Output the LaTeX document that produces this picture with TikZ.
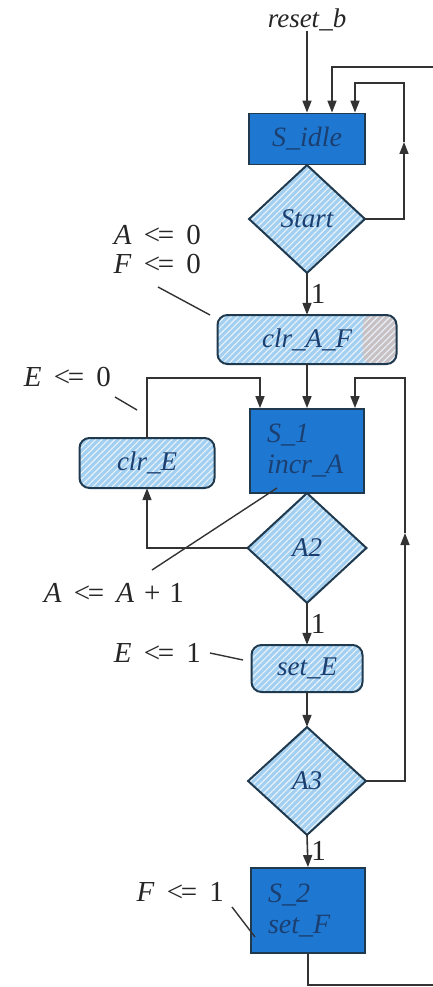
\documentclass[tikz,border=0pt]{standalone}
\usepackage{fontspec}
\setmainfont{Liberation Serif}
\usepackage{xcolor}
\usetikzlibrary{
	arrows.meta,
	positioning,
	calc,
	shapes.geometric,
	patterns.meta
}

\definecolor{stateblue}{HTML}{1E78D2}
\definecolor{condblue}{HTML}{A3CFF0}
\definecolor{boxedge}{HTML}{1F3A4F}
\definecolor{boxtext}{HTML}{1B3F70}
\definecolor{greypart}{HTML}{C9C0C3}

\newcommand{\asgn}[2]{\textit{#1}\hspace{0.42em}<\kern-2.4pt=\hspace{0.42em}#2}

\begin{document}
\begin{tikzpicture}[
		x=1pt, y=-1pt,
		>={Triangle[length=12pt,width=9pt]},
		flow/.style={
			draw=black!80,
			line width=1.6pt
		},
		tick/.style={
			draw=black!80,
			line width=1.4pt
		},
		lbl/.style={
			font=\fontsize{29}{29}\selectfont,
			inner sep=0pt,
			text=black!85
		},
		statebox/.style={
			rectangle,
			draw=boxedge,
			fill=stateblue,
			line width=1.8pt,
			inner sep=0pt,
			text=boxtext,
			font=\fontsize{28}{31}\selectfont\itshape
		},
		hatch/.style={
			postaction={
				pattern={Lines[angle=45,distance=4.5pt,line width=1.1pt]},
				pattern color=white!75!condblue
			},
			postaction={draw=boxedge, line width=2pt}
		},
		condbox/.style={
			rectangle,
			rounded corners=10pt,
			fill=condblue,
			hatch,
			inner sep=0pt,
			text=boxtext,
			font=\fontsize{27}{28}\selectfont\itshape
		},
		decision/.style={
			diamond,
			fill=condblue,
			hatch,
			inner sep=0pt,
			minimum width=116pt,
			minimum height=108pt,
			text=boxtext,
			font=\fontsize{27}{28}\selectfont\itshape
		}
		]
		\useasboundingbox (0,0) rectangle (432,987);
		
		% States and boxes
		\node[lbl, font=\fontsize{27}{28}\selectfont\itshape] (reset) at (307,20) {reset\_b};
		\node[statebox, minimum width=116pt, minimum height=51pt] (idle) at (307,139) {S\_idle};
		\node[decision] (start) at (307,219) {Start};
		\node[condbox, minimum width=179pt, minimum height=49pt,
			path picture={\fill[greypart] ([xshift=-34pt]path picture bounding box.north east) rectangle (path picture bounding box.south east);}]
			(clrAF) at (307,339.5) {clr\_A\_F};
		\node[statebox, minimum width=114pt, minimum height=84pt, text width=80pt, align=left] (s1) at (307,451) {S\_1\\incr\_A};
		\node[condbox, minimum width=135pt, minimum height=50pt] (clrE) at (147,463) {clr\_E};
		\node[decision, minimum width=119pt, minimum height=110pt] (a2) at (307,548) {A2};
		\node[condbox, minimum width=111pt, minimum height=47pt] (setE) at (307,668.5) {set\_E};
		\node[decision, minimum width=118pt] (a3) at (307,781) {A3};
		\node[statebox, minimum width=114pt, minimum height=85pt, text width=80pt, align=left] (s2) at (308,910.5) {S\_2\\set\_F};
		
		% Corner points of the loops
		\coordinate (outBot) at (445,985);
		\coordinate (outTop) at (332,67);
		\coordinate (upA) at (404,142);
		\coordinate (topA) at (404,83);
		\coordinate (eTop) at (147,378);
		\coordinate (upB) at (405,533);
		\coordinate (topB) at (405,378);
		
		% Connections
		\draw[flow,->] (reset) -- (idle);
		\draw[flow,->] (s2.south) |- (outBot) |- (outTop) -- (outTop |- idle.north);
		\draw[flow,->] (start.east) -| (upA);
		\draw[flow,->] (upA) -- (topA) -| ([xshift=48pt]idle.north);
		\draw[flow,->] (start.south) -- (clrAF.north)
			node[midway, right=3pt, lbl] {1};
		\draw[flow,->] (clrAF.south) -- (s1.north);
		\draw[flow,->] (a2.west) -| (clrE.south);
		\draw[flow,->] (clrE.north) -- (eTop) -| ([xshift=-47pt]s1.north);
		\draw[flow,->] (a3.east) -| (upB);
		\draw[flow,->] (upB) -- (topB) -| ([xshift=48pt]s1.north);
		\draw[flow,->] (a2.south) -- (setE.north)
			node[midway, right=3pt, lbl] {1};
		\draw[flow,->] (setE.south) -- (a3.north);
		\draw[flow,->] (a3.south) -- (s2.north)
			node[midway, right=3pt, lbl] {1};
		
		% Register assignments
		\node[lbl, align=right, anchor=east] (lblAF) at (201,249) {\asgn{A}{0}\\\asgn{F}{0}};
		\node[lbl, anchor=east] (lblE0) at (111,377) {\asgn{E}{0}};
		\node[lbl, anchor=east] (lblA1) at (184,593) {\asgn{A}{\textit{A}\hspace{0.35em}+\hspace{0.3em}1}};
		\node[lbl, anchor=east] (lblE1) at (201,653) {\asgn{E}{1}};
		\node[lbl, anchor=east] (lblF1) at (224,892) {\asgn{F}{1}};
		
		\coordinate (sAF) at (158,287);
		\coordinate (tAF) at (210,315);
		\coordinate (sE0) at (115,397);
		\coordinate (tE0) at (137,410);
		\coordinate (sA1) at (152,570);
		\coordinate (tA1) at (277,488);
		\coordinate (sE1) at (210,653);
		\coordinate (tE1) at (243,660);
		\coordinate (sF1) at (232,907);
		\coordinate (tF1) at (255,937);
		\draw[tick] (sAF) -- (tAF);
		\draw[tick] (sE0) -- (tE0);
		\draw[tick] (sA1) -- (tA1);
		\draw[tick] (sE1) -- (tE1);
		\draw[tick] (sF1) -- (tF1);
		
	\end{tikzpicture}
\end{document}
